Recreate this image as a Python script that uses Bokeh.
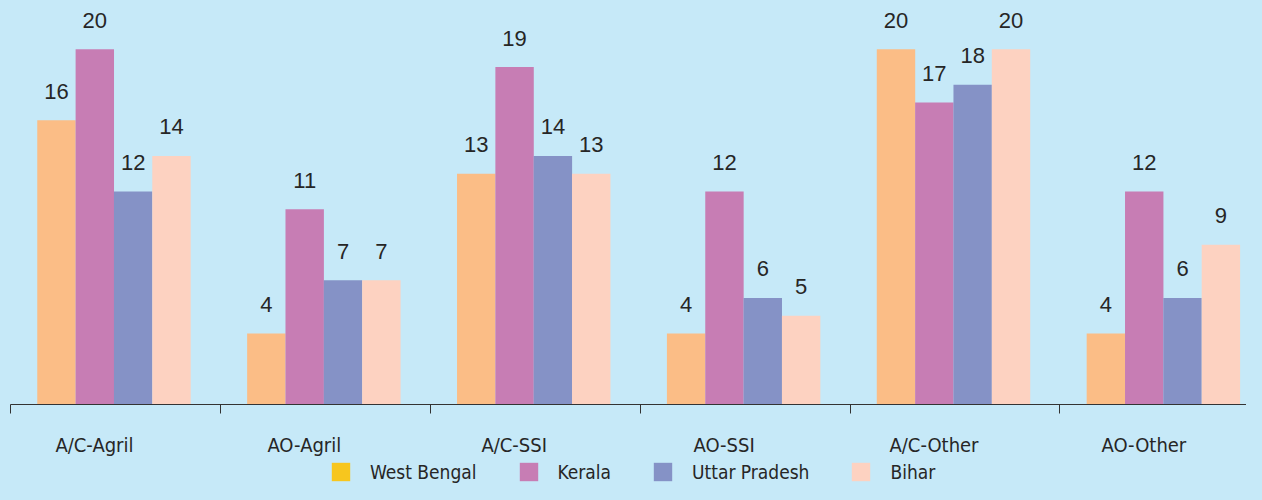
from bokeh.plotting import figure
from bokeh.layouts import column
from bokeh.models import ColumnDataSource, Range1d, FixedTicker, Legend, LegendItem
from bokeh.core.properties import value
from bokeh.embed import file_html
from bokeh.resources import INLINE

categories = ["A/C-Agril", "AO-Agril", "A/C-SSI", "AO-SSI", "A/C-Other", "AO-Other"]
states = ["West Bengal", "Kerala", "Uttar Pradesh", "Bihar"]
west_bengal = [16, 4, 13, 4, 20, 4]
kerala = [20, 11, 19, 12, 17, 12]
uttar_pradesh = [12, 7, 14, 6, 18, 6]
bihar = [14, 7, 13, 5, 20, 9]

series = [west_bengal, kerala, uttar_pradesh, bihar]
bar_colors = ["#fbbd86", "#c77db4", "#8592c6", "#fdd2c1"]
legend_colors = ["#f7c61e", "#c77db4", "#8592c6", "#fdd2c1"]
offsets = [-0.274, -0.0913, 0.0913, 0.274]
BAR_W = 0.183
BG = "#c6e9f8"
TXT = "#262626"
NARROW = "DejaVu Sans Condensed, Liberation Sans Narrow, sans-serif"

W = 1246
p = figure(width=W, height=459, output_backend="svg", toolbar_location=None,
           x_range=Range1d(0, 5.889), y_range=Range1d(0, 22.75),
           y_axis_location=None, min_border_left=10, min_border_right=0,
           min_border_top=0, min_border_bottom=54)
p.background_fill_color = BG
p.border_fill_color = BG
p.outline_line_color = None
p.grid.visible = False

for vals, col, off in zip(series, bar_colors, offsets):
    xs = [i + 0.493 + off for i in range(len(categories))]
    src = ColumnDataSource(dict(x=xs, top=vals, lab=[str(v) for v in vals]))
    p.vbar(x="x", top="top", width=BAR_W, source=src, fill_color=col, line_color=None)
    p.text(x="x", y="top", text="lab", source=src, text_align="center",
           text_baseline="alphabetic", y_offset=-29, text_color=TXT,
           text_font=value("Liberation Sans"), text_font_size="22px")

label_ticks = [round(i + 0.4, 3) for i in range(len(categories))]
ax = p.xaxis[0]
ax.ticker = FixedTicker(ticks=label_ticks, minor_ticks=list(range(len(categories) + 1)))
ax.major_label_overrides = {t: c for t, c in zip(label_ticks, categories)}
ax.major_tick_line_color = None
ax.major_tick_out = 0
ax.major_tick_in = 0
ax.minor_tick_out = 9
ax.minor_tick_in = 0
ax.minor_tick_line_color = "#333333"
ax.axis_line_color = "#333333"
ax.major_label_standoff = 19
ax.major_label_text_font = NARROW
ax.major_label_text_font_size = "20px"
ax.major_label_text_color = TXT

# legend strip
lg = figure(width=W, height=25, output_backend="svg", toolbar_location=None,
            x_range=Range1d(0, 1), y_range=Range1d(0, 1),
            x_axis_location=None, y_axis_location=None,
            min_border_left=0, min_border_right=0, min_border_top=0, min_border_bottom=0)
lg.background_fill_color = BG
lg.border_fill_color = BG
lg.outline_line_color = None
lg.grid.visible = False
items = []
for name, col in zip(states, legend_colors):
    r = lg.vbar(x=[5], top=[1], width=0.1, fill_color=col, line_color=None)
    items.append(LegendItem(label=name, renderers=[r]))
legend = Legend(items=items, orientation="horizontal", location=(319, 1),
                padding=0, margin=0, spacing=40, glyph_width=23, glyph_height=23,
                label_standoff=18, label_text_font=NARROW, label_text_font_size="19px",
                label_text_color=TXT, background_fill_alpha=0, border_line_color=None)
lg.add_layout(legend, "center")

layout = column(p, lg, spacing=0)
html = file_html(layout, INLINE)
html = html.replace("<head>", "<head><style>html,body{background:%s}</style>" % BG, 1)
open("out.html", "w").write(html)
